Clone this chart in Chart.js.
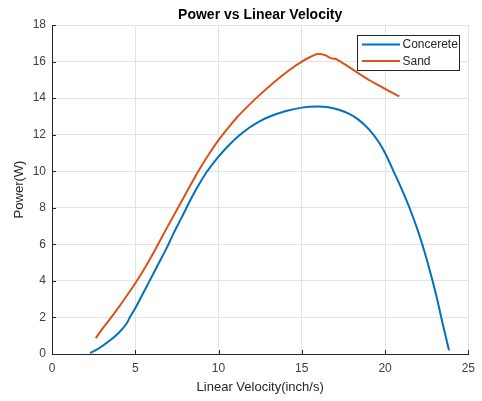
<!DOCTYPE html>
<html>
<head>
<meta charset="utf-8">
<script src="https://cdn.jsdelivr.net/npm/chart.js@4.4.0/dist/chart.umd.min.js"></script>
<style>
  html, body { margin: 0; padding: 0; background: #fff; }
  #wrap { width: 482px; height: 401px; }
</style>
</head>
<body>
<div id="wrap"><canvas id="plot"></canvas></div>
<script>
// values
const concreteX = [2.29, 2.8, 3.47, 4.0, 4.5, 4.7, 5.0, 5.4, 5.86, 6.4, 6.86, 7.3, 7.76, 8.5, 9.25, 10.0, 10.65, 11.24, 11.84, 12.44, 13.04, 14.0, 15.0, 15.97, 16.6, 17.22, 17.82, 18.42, 19.02, 19.62, 20.0, 20.5, 21.0, 21.5, 22.0, 22.4, 22.8, 23.1, 23.45, 23.84];
const concreteY = [0.05, 0.3, 0.74, 1.15, 1.7, 2.05, 2.5, 3.2, 4.0, 4.95, 5.75, 6.6, 7.42, 8.75, 9.9, 10.8, 11.45, 11.95, 12.38, 12.72, 12.98, 13.28, 13.48, 13.54, 13.5, 13.36, 13.15, 12.81, 12.3, 11.6, 11.0, 10.02, 9.02, 7.92, 6.67, 5.5, 4.18, 3.1, 1.7, 0.2];

const sandX = [2.63, 3.0, 3.47, 4.0, 4.5, 5.06, 5.6, 6.22, 6.9, 7.66, 8.2, 8.75, 9.4, 10.0, 10.65, 11.14, 11.84, 12.44, 13.44, 14.2, 15.0, 15.5, 15.97, 16.4, 16.73, 17.0, 17.22, 18.0, 18.5, 19.12, 19.62, 20.3, 20.86];
const sandY = [0.87, 1.35, 1.9, 2.55, 3.2, 3.95, 4.75, 5.75, 6.9, 8.15, 9.05, 9.95, 10.9, 11.7, 12.45, 12.98, 13.63, 14.15, 14.95, 15.5, 16.0, 16.25, 16.41, 16.35, 16.19, 16.15, 16.05, 15.6, 15.3, 14.95, 14.7, 14.35, 14.09];

const xTicks = [0, 5, 10, 15, 20, 25];
const yTicks = [0, 2, 4, 6, 8, 10, 12, 14, 16, 18];

const seriesNames = ['Concerete', 'Sand'];
const seriesColors = ['#0072BD', '#D95319'];

const FONT = '"Liberation Sans", Arial, Helvetica, sans-serif';
const INK = '#262626';

function toPoints(xs, ys) {
    return xs.map((x, i) => ({ x: x, y: ys[i] }));
}

// title, inward ticks and boxed legend, matlab style
const matlabBits = {
    id: 'matlabBits',
    afterDraw(chart) {
        const c = chart.ctx;
        const area = chart.chartArea;
        const xs = chart.scales.x;
        const ys = chart.scales.y;

        c.save();
        c.strokeStyle = INK;
        c.lineWidth = 1;
        c.beginPath();
        xTicks.forEach(v => {
            const px = Math.round(xs.getPixelForValue(v)) + 0.5;
            c.moveTo(px, area.bottom);
            c.lineTo(px, area.bottom - 4);
        });
        yTicks.forEach(v => {
            const py = Math.round(ys.getPixelForValue(v)) + 0.5;
            c.moveTo(area.left, py);
            c.lineTo(area.left + 4, py);
        });
        c.stroke();

        // title
        c.fillStyle = '#000';
        c.font = 'bold 14px ' + FONT;
        c.textAlign = 'center';
        c.textBaseline = 'middle';
        c.fillText('Power vs Linear Velocity', (area.left + area.right) / 2, 15);

        // legend
        const bx = 357.5, by = 35.5, bw = 102, bh = 35;
        c.fillStyle = '#fff';
        c.fillRect(bx, by, bw, bh);
        c.strokeStyle = INK;
        c.strokeRect(bx, by, bw, bh);
        c.font = '12px ' + FONT;
        c.textAlign = 'left';
        chart.data.datasets.forEach((ds, i) => {
            const ly = 44.5 + i * 16.5;
            c.strokeStyle = ds.borderColor;
            c.lineWidth = 2;
            c.beginPath();
            c.moveTo(362, ly);
            c.lineTo(400, ly);
            c.stroke();
            c.fillStyle = INK;
            c.fillText(ds.label, 402.5, ly + 0.5);
        });
        c.restore();
    }
};

new Chart(document.getElementById('plot'), {
    type: 'line',
    data: {
        datasets: [
            {
                label: seriesNames[0],
                data: toPoints(concreteX, concreteY),
                borderColor: seriesColors[0],
                borderWidth: 2,
                pointRadius: 0,
                cubicInterpolationMode: 'monotone'
            },
            {
                label: seriesNames[1],
                data: toPoints(sandX, sandY),
                borderColor: seriesColors[1],
                borderWidth: 2,
                pointRadius: 0,
                cubicInterpolationMode: 'monotone'
            }
        ]
    },
    options: {
        responsive: true,
        maintainAspectRatio: false,
        animation: false,
        events: [],
        layout: { padding: { top: 25, right: 12, left: 0, bottom: 0 } },
        plugins: {
            legend: { display: false },
            title: { display: false },
            tooltip: { enabled: false }
        },
        scales: {
            x: {
                type: 'linear',
                min: 0,
                max: 25,
                afterFit: s => { s.height = 47; },
                afterBuildTicks: s => { s.ticks = xTicks.map(v => ({ value: v })); },
                grid: { color: '#e3e3e3', drawTicks: false },
                border: { color: INK },
                ticks: { padding: 7, color: '#404040', font: { family: FONT, size: 12 } },
                title: {
                    display: true,
                    text: 'Linear Velocity(inch/s)',
                    color: INK,
                    font: { family: FONT, size: 13 },
                    padding: { top: 0, bottom: 6 }
                }
            },
            y: {
                type: 'linear',
                min: 0,
                max: 18,
                afterFit: s => { s.width = 52; },
                afterBuildTicks: s => { s.ticks = yTicks.map(v => ({ value: v })); },
                grid: { color: '#e3e3e3', drawTicks: false },
                border: { color: INK },
                ticks: { padding: 6, color: '#404040', font: { family: FONT, size: 12 } },
                title: {
                    display: true,
                    text: 'Power(W)',
                    color: INK,
                    font: { family: FONT, size: 13 },
                    padding: { top: 12, bottom: 0 }
                }
            }
        }
    },
    plugins: [matlabBits]
});
</script>
</body>
</html>
